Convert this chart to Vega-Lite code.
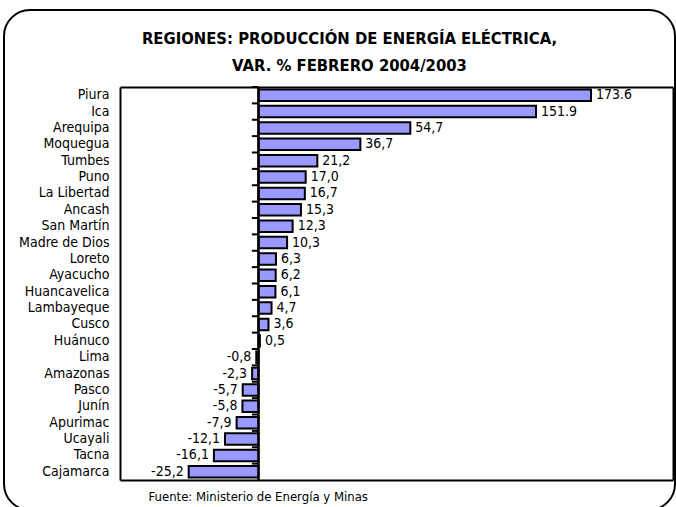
{
  "$schema": "https://vega.github.io/schema/vega-lite/v6.json",
  "width": 671,
  "height": 500,
  "padding": {"left": 4, "top": 10, "right": 1, "bottom": 0},
  "autosize": {"type": "none"},
  "background": "white",
  "config": {
    "view": {"stroke": "black", "strokeWidth": 2, "cornerRadius": 26, "fill": "white"},
    "font": "DejaVu Sans Condensed, Liberation Sans, sans-serif",
    "axis": {"domainColor": "black", "domainWidth": 2, "grid": false, "ticks": false}
  },
  "title": {
    "text": ["REGIONES: PRODUCCIÓN DE ENERGÍA ELÉCTRICA,", "VAR. % FEBRERO 2004/2003"],
    "font": "DejaVu Sans Condensed, Liberation Sans, sans-serif",
    "fontSize": 16.5,
    "fontWeight": "bold",
    "color": "black",
    "anchor": "middle",
    "frame": "group",
    "lineHeight": 27,
    "dx": 10,
    "offset": -64
  },
  "data": {
    "values": [
      {"region": "Piura", "value": 173.6, "label": "173.6"},
      {"region": "Ica", "value": 151.9, "label": "151.9"},
      {"region": "Arequipa", "value": 54.7, "label": "54,7"},
      {"region": "Moquegua", "value": 36.7, "label": "36,7"},
      {"region": "Tumbes", "value": 21.2, "label": "21,2"},
      {"region": "Puno", "value": 17.0, "label": "17,0"},
      {"region": "La Libertad", "value": 16.7, "label": "16,7"},
      {"region": "Ancash", "value": 15.3, "label": "15,3"},
      {"region": "San Martín", "value": 12.3, "label": "12,3"},
      {"region": "Madre de Dios", "value": 10.3, "label": "10,3"},
      {"region": "Loreto", "value": 6.3, "label": "6,3"},
      {"region": "Ayacucho", "value": 6.2, "label": "6,2"},
      {"region": "Huancavelica", "value": 6.1, "label": "6,1"},
      {"region": "Lambayeque", "value": 4.7, "label": "4,7"},
      {"region": "Cusco", "value": 3.6, "label": "3,6"},
      {"region": "Huánuco", "value": 0.5, "label": "0,5"},
      {"region": "Lima", "value": -0.8, "label": "-0,8"},
      {"region": "Amazonas", "value": -2.3, "label": "-2,3"},
      {"region": "Pasco", "value": -5.7, "label": "-5,7"},
      {"region": "Junín", "value": -5.8, "label": "-5,8"},
      {"region": "Apurimac", "value": -7.9, "label": "-7,9"},
      {"region": "Ucayali", "value": -12.1, "label": "-12,1"},
      {"region": "Tacna", "value": -16.1, "label": "-16,1"},
      {"region": "Cajamarca", "value": -25.2, "label": "-25,2"}
    ]
  },
  "layer": [
    {
      "mark": {"type": "bar", "fill": "#9999ff", "stroke": "black", "strokeWidth": 2, "height": {"band": 0.7}},
      "encoding": {
        "y": {
          "field": "region", "type": "nominal", "sort": null,
          "scale": {"range": [77, 470], "paddingInner": 0, "paddingOuter": 0},
          "axis": {
            "orient": "left", "offset": -116, "title": null, "labelPadding": 11,
            "labelFontSize": 14, "labelColor": "black", "labelFont": "DejaVu Sans Condensed, Liberation Sans, sans-serif"
          }
        },
        "x": {
          "field": "value", "type": "quantitative",
          "scale": {
            "domain": [-50, 0, 60, 151.9, 173.6, 203],
            "range": [116, 254.5, 421, 532, 587, 669],
            "nice": false, "zero": false
          },
          "axis": {
            "orient": "bottom", "offset": -30, "labels": false, "ticks": false,
            "title": "Fuente: Ministerio de Energía y Minas",
            "titleFont": "DejaVu Sans Condensed, Liberation Sans, sans-serif", "titleFontSize": 13, "titleFontWeight": "normal",
            "titleColor": "black", "titleAnchor": "start", "titleAlign": "left",
            "titleX": 144, "titleY": 16, "titleBaseline": "middle"
          }
        }
      }
    },
    {
      "mark": {"type": "tick", "orient": "vertical", "color": "black", "thickness": 2.5, "size": 16.5, "opacity": 1},
      "encoding": {
        "y": {
          "field": "region", "type": "nominal", "sort": null,
          "axis": {"orient": "right", "offset": -2, "labels": false, "ticks": false, "title": null}
        },
        "x": {
          "datum": 0, "type": "quantitative",
          "axis": {"orient": "top", "offset": -77, "labels": false, "ticks": false, "title": null}
        }
      }
    },
    {
      "mark": {"type": "rule", "color": "black", "strokeWidth": 2},
      "encoding": {
        "y": {"field": "region", "type": "nominal", "sort": null, "bandPosition": 0, "axis": null},
        "x": {"datum": -2.4, "type": "quantitative", "axis": null},
        "x2": {"datum": 0}
      }
    },
    {
      "transform": [{"filter": "datum.value >= 0"}],
      "mark": {"type": "text", "align": "left", "baseline": "middle", "dx": 5, "fontSize": 14, "color": "black", "font": "DejaVu Sans Condensed, Liberation Sans, sans-serif"},
      "encoding": {
        "y": {"field": "region", "type": "nominal", "sort": null, "axis": null},
        "x": {"field": "value", "type": "quantitative", "axis": null},
        "text": {"field": "label"}
      }
    },
    {
      "transform": [{"filter": "datum.value < 0"}],
      "mark": {"type": "text", "align": "right", "baseline": "middle", "dx": -5, "fontSize": 14, "color": "black", "font": "DejaVu Sans Condensed, Liberation Sans, sans-serif"},
      "encoding": {
        "y": {"field": "region", "type": "nominal", "sort": null, "axis": null},
        "x": {"field": "value", "type": "quantitative", "axis": null},
        "text": {"field": "label"}
      }
    }
  ],
  "resolve": {"axis": {"x": "independent", "y": "independent"}}
}
